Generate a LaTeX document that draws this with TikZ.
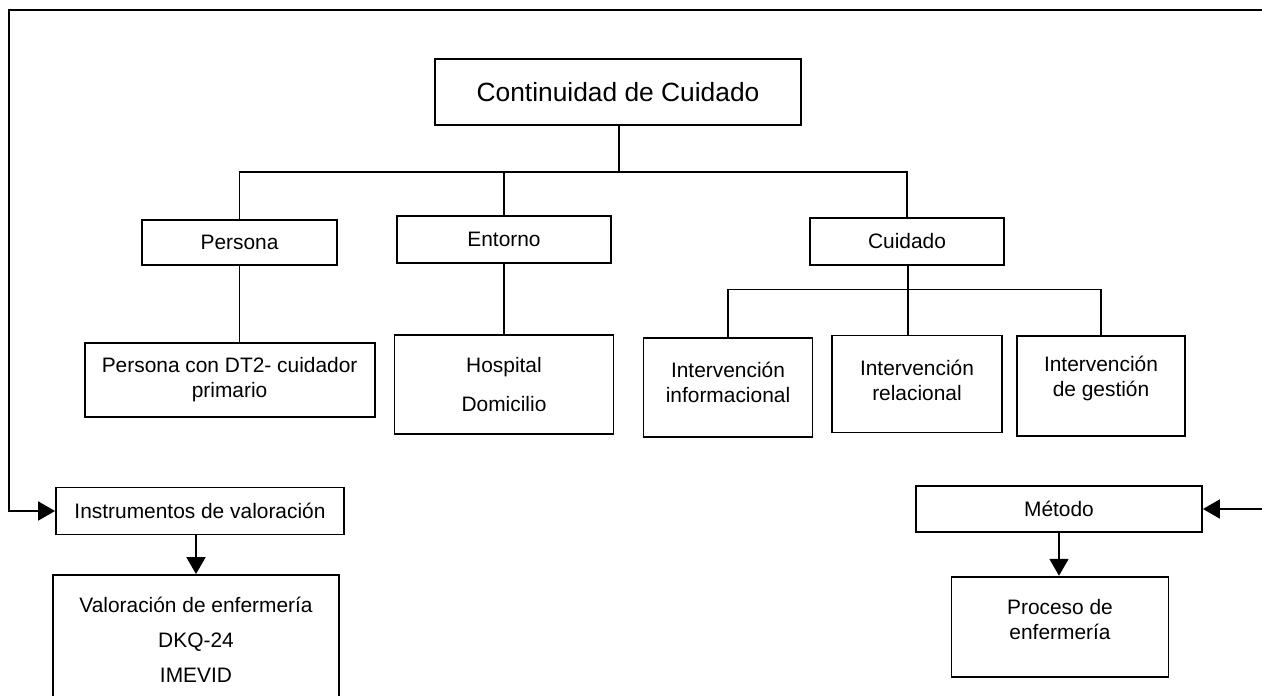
\documentclass[tikz,border=0pt]{standalone}
\usepackage{fontspec}
\setmainfont{Liberation Sans}
\usetikzlibrary{arrows.meta}
\begin{document}
\begin{tikzpicture}[x=0.02cm, y=-0.02cm,
    box/.style={draw=black, line width=1.1pt, align=center, inner sep=0pt, font=\fontsize{11.9}{14.2}\selectfont},
    link/.style={black, line width=0.9pt},
    flow/.style={link, -{Triangle[length=9.6pt, width=10.8pt]}}]
      \useasboundingbox (0,0) rectangle (1262,696);
      \clip (0,0) rectangle (1262,696);
      %
      \node [box, minimum width=7.32cm, minimum height=1.32cm, font=\fontsize{15}{18}\selectfont] (cont) at (618, 92) {Continuidad de Cuidado};
      %
      \node [box, minimum width=3.9cm,  minimum height=0.9cm ] (pers) at (239.5, 242.5) {Persona};
      \node [box, minimum width=4.28cm, minimum height=0.94cm] (ent)  at (504, 239.5) {Entorno};
      \node [box, minimum width=3.88cm, minimum height=0.94cm] (cuid) at (907, 241.5) {Cuidado};
      %
      \node [box, minimum width=5.8cm,  minimum height=1.49cm] (perdt) at (229.6, 380) {Persona con DT2- cuidador\\primario};
      \node [box, minimum width=4.38cm, minimum height=1.98cm] (hosp)  at (504, 384.5) {Hospital\\[7.5pt]Domicilio};
      \node [box, minimum width=3.38cm, minimum height=1.98cm, text depth=5.6pt] (info) at (728, 387.5) {Intervención\\informacional};
      \node [box, minimum width=3.4cm,  minimum height=1.94cm, text depth=4.5pt] (rel)  at (917, 384) {Intervención\\relacional};
      \node [box, minimum width=3.36cm, minimum height=2cm, text depth=11.5pt  ] (gest) at (1101, 386) {Intervención\\de gestión};
      %
      \node [box, minimum width=5.76cm, minimum height=0.94cm] (instr) at (200, 511) {Instrumentos de valoración};
      \node [box, minimum width=5.72cm, minimum height=2.6cm ] (valo)  at (196, 640) {Valoración de enfermería\\[5.8pt]DKQ-24\\[5.8pt]IMEVID};
      \node [box, minimum width=5.72cm, minimum height=0.92cm] (met)   at (1059, 509) {Método};
      \node [box, minimum width=4.34cm, minimum height=2cm, text depth=8pt] (proc) at (1060, 626.7) {Proceso de\\enfermería};
      %
      \coordinate (tbar) at (619, 172);
      \coordinate (cbar) at (908, 289.3);
      \coordinate (tl) at (9, 10);
      \coordinate (tr) at (1262, 10);
      %
      \draw [link] (cont.south -| tbar) -- (tbar);
      \draw [link] (pers.north) |- (tbar) -| (cuid.north);
      \draw [link] (ent.north |- tbar) -- (ent.north);
      \draw [link] (pers.south) -- (pers.south |- perdt.north);
      \draw [link] (ent.south) -- (ent.south |- hosp.north);
      %
      \draw [link] (cuid.south -| cbar) -- (cbar |- rel.north);
      \draw [link] (info.north) |- (cbar) -| (gest.north);
      %
      \draw [flow] (tr) -- (tl) |- (instr.west);
      \draw [flow] (met.east -| tr) -- (met.east);
      \draw [flow] (valo.north |- instr.south) -- (valo.north);
      \draw [flow] (met.south) -- (met.south |- proc.north);
      %
\end{tikzpicture}
\end{document}
